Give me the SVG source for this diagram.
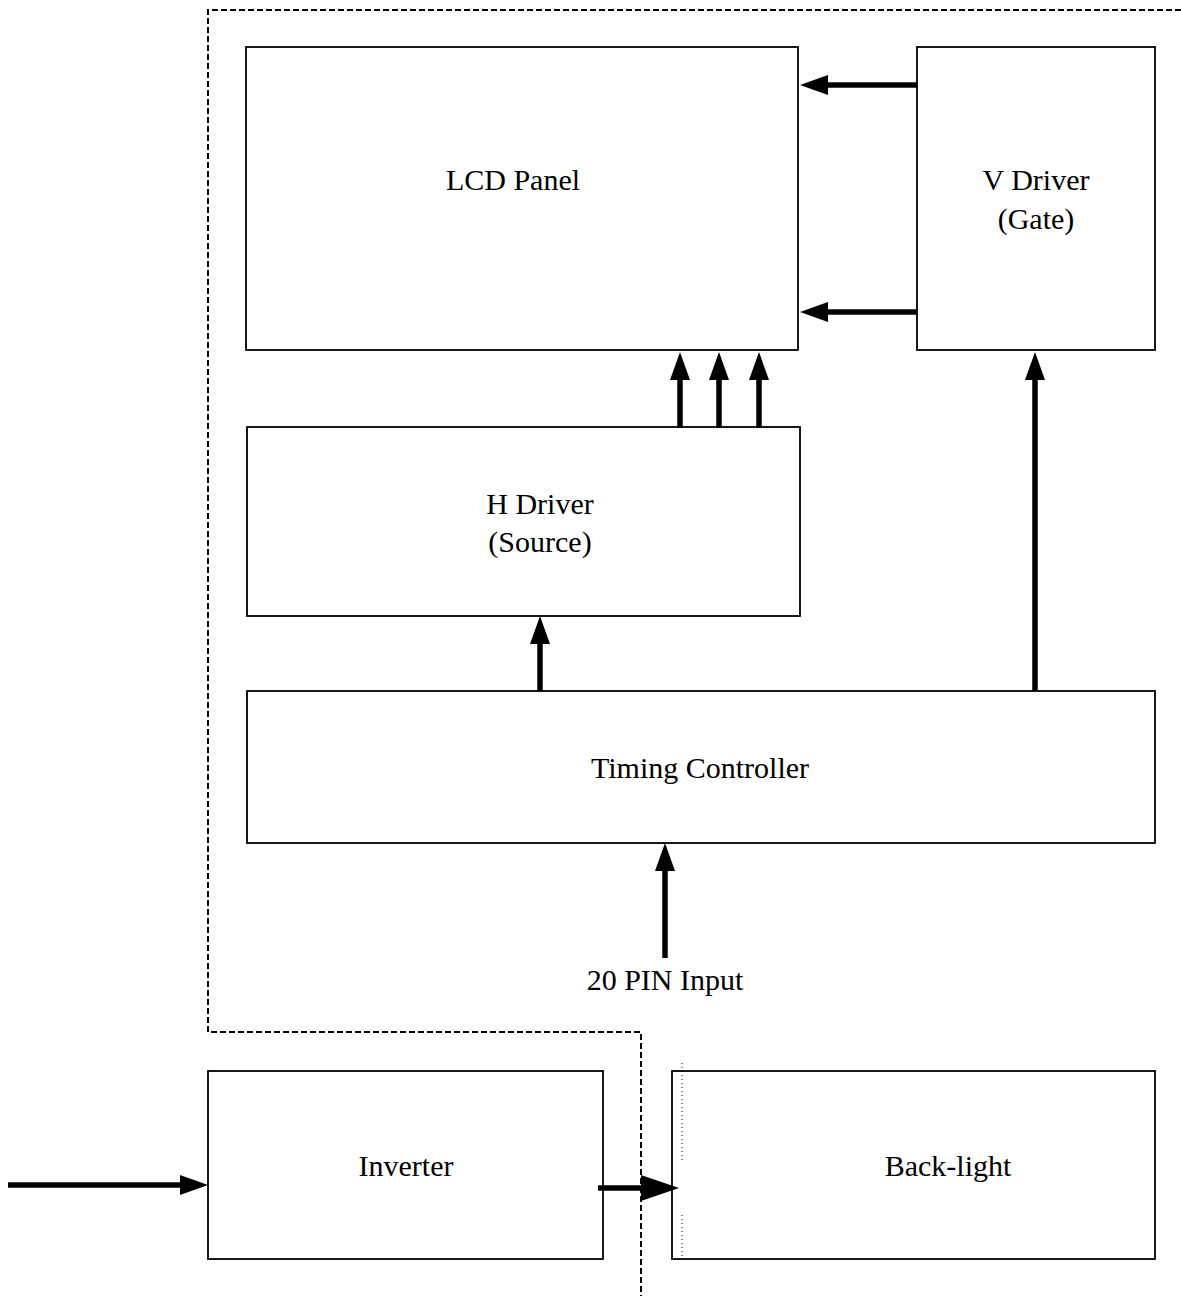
<svg xmlns="http://www.w3.org/2000/svg" width="1181" height="1296" viewBox="0 0 1181 1296">
<style>
.box{fill:#fff;stroke:#000;stroke-width:1.8}
.lbl{font-family:"Liberation Serif","Times New Roman",serif;font-size:30px;fill:#000;text-anchor:middle}
.conn{stroke:#000;stroke-width:5.5;fill:none}
.dash{stroke:#000;stroke-width:2;fill:none;stroke-dasharray:6 3}
.dot{stroke:#000;stroke-width:1;fill:none;stroke-dasharray:1 3}
</style>
<defs>
<marker id="ah" markerUnits="userSpaceOnUse" markerWidth="28" markerHeight="20" refX="0" refY="10" orient="auto"><path d="M0,0 L28,10 L0,20 z" fill="#000"/></marker>
<marker id="ahb" markerUnits="userSpaceOnUse" markerWidth="38" markerHeight="26" refX="0" refY="13" orient="auto"><path d="M0,0 L38,13 L0,26 z" fill="#000"/></marker>
</defs>
<path class="dash" d="M1181,10 L208,10 L208,1032 L641,1032 L641,1296"/>
<g id="lcd"><rect class="box" x="246" y="47" width="552" height="303"/><text class="lbl" x="513" y="190">LCD Panel</text></g>
<g id="vdriver"><rect class="box" x="917" y="47" width="238" height="303"/><text class="lbl" x="1036" y="190">V Driver</text><text class="lbl" x="1036" y="229">(Gate)</text></g>
<g id="hdriver"><rect class="box" x="247" y="427" width="553" height="189"/><text class="lbl" x="540" y="514">H Driver</text><text class="lbl" x="540" y="552">(Source)</text></g>
<g id="tcon"><rect class="box" x="247" y="691" width="908" height="152"/><text class="lbl" x="700" y="778">Timing Controller</text></g>
<g id="input"><text class="lbl" x="665" y="990">20 PIN Input</text></g>
<g id="inverter"><rect class="box" x="208" y="1071" width="395" height="188"/><text class="lbl" x="406" y="1176">Inverter</text></g>
<g id="backlight"><rect class="box" x="672" y="1071" width="483" height="188"/><line class="dot" x1="682" y1="1063" x2="682" y2="1162"/><line class="dot" x1="682" y1="1215" x2="682" y2="1259"/><text class="lbl" x="948" y="1176">Back-light</text></g>
<g id="connectors">
<line class="conn" x1="917" y1="85" x2="828" y2="85" marker-end="url(#ah)"/>
<line class="conn" x1="917" y1="312" x2="828" y2="312" marker-end="url(#ah)"/>
<line class="conn" x1="680" y1="428" x2="680" y2="380" marker-end="url(#ah)"/>
<line class="conn" x1="719" y1="428" x2="719" y2="380" marker-end="url(#ah)"/>
<line class="conn" x1="759" y1="428" x2="759" y2="380" marker-end="url(#ah)"/>
<line class="conn" x1="1035" y1="691" x2="1035" y2="380" marker-end="url(#ah)"/>
<line class="conn" x1="540" y1="691" x2="540" y2="644" marker-end="url(#ah)"/>
<line class="conn" x1="665" y1="958" x2="665" y2="871" marker-end="url(#ah)"/>
<line class="conn" x1="8" y1="1185" x2="180" y2="1185" marker-end="url(#ah)"/>
<line class="conn" x1="598" y1="1188" x2="641" y2="1188" marker-end="url(#ahb)"/>
</g>
</svg>
